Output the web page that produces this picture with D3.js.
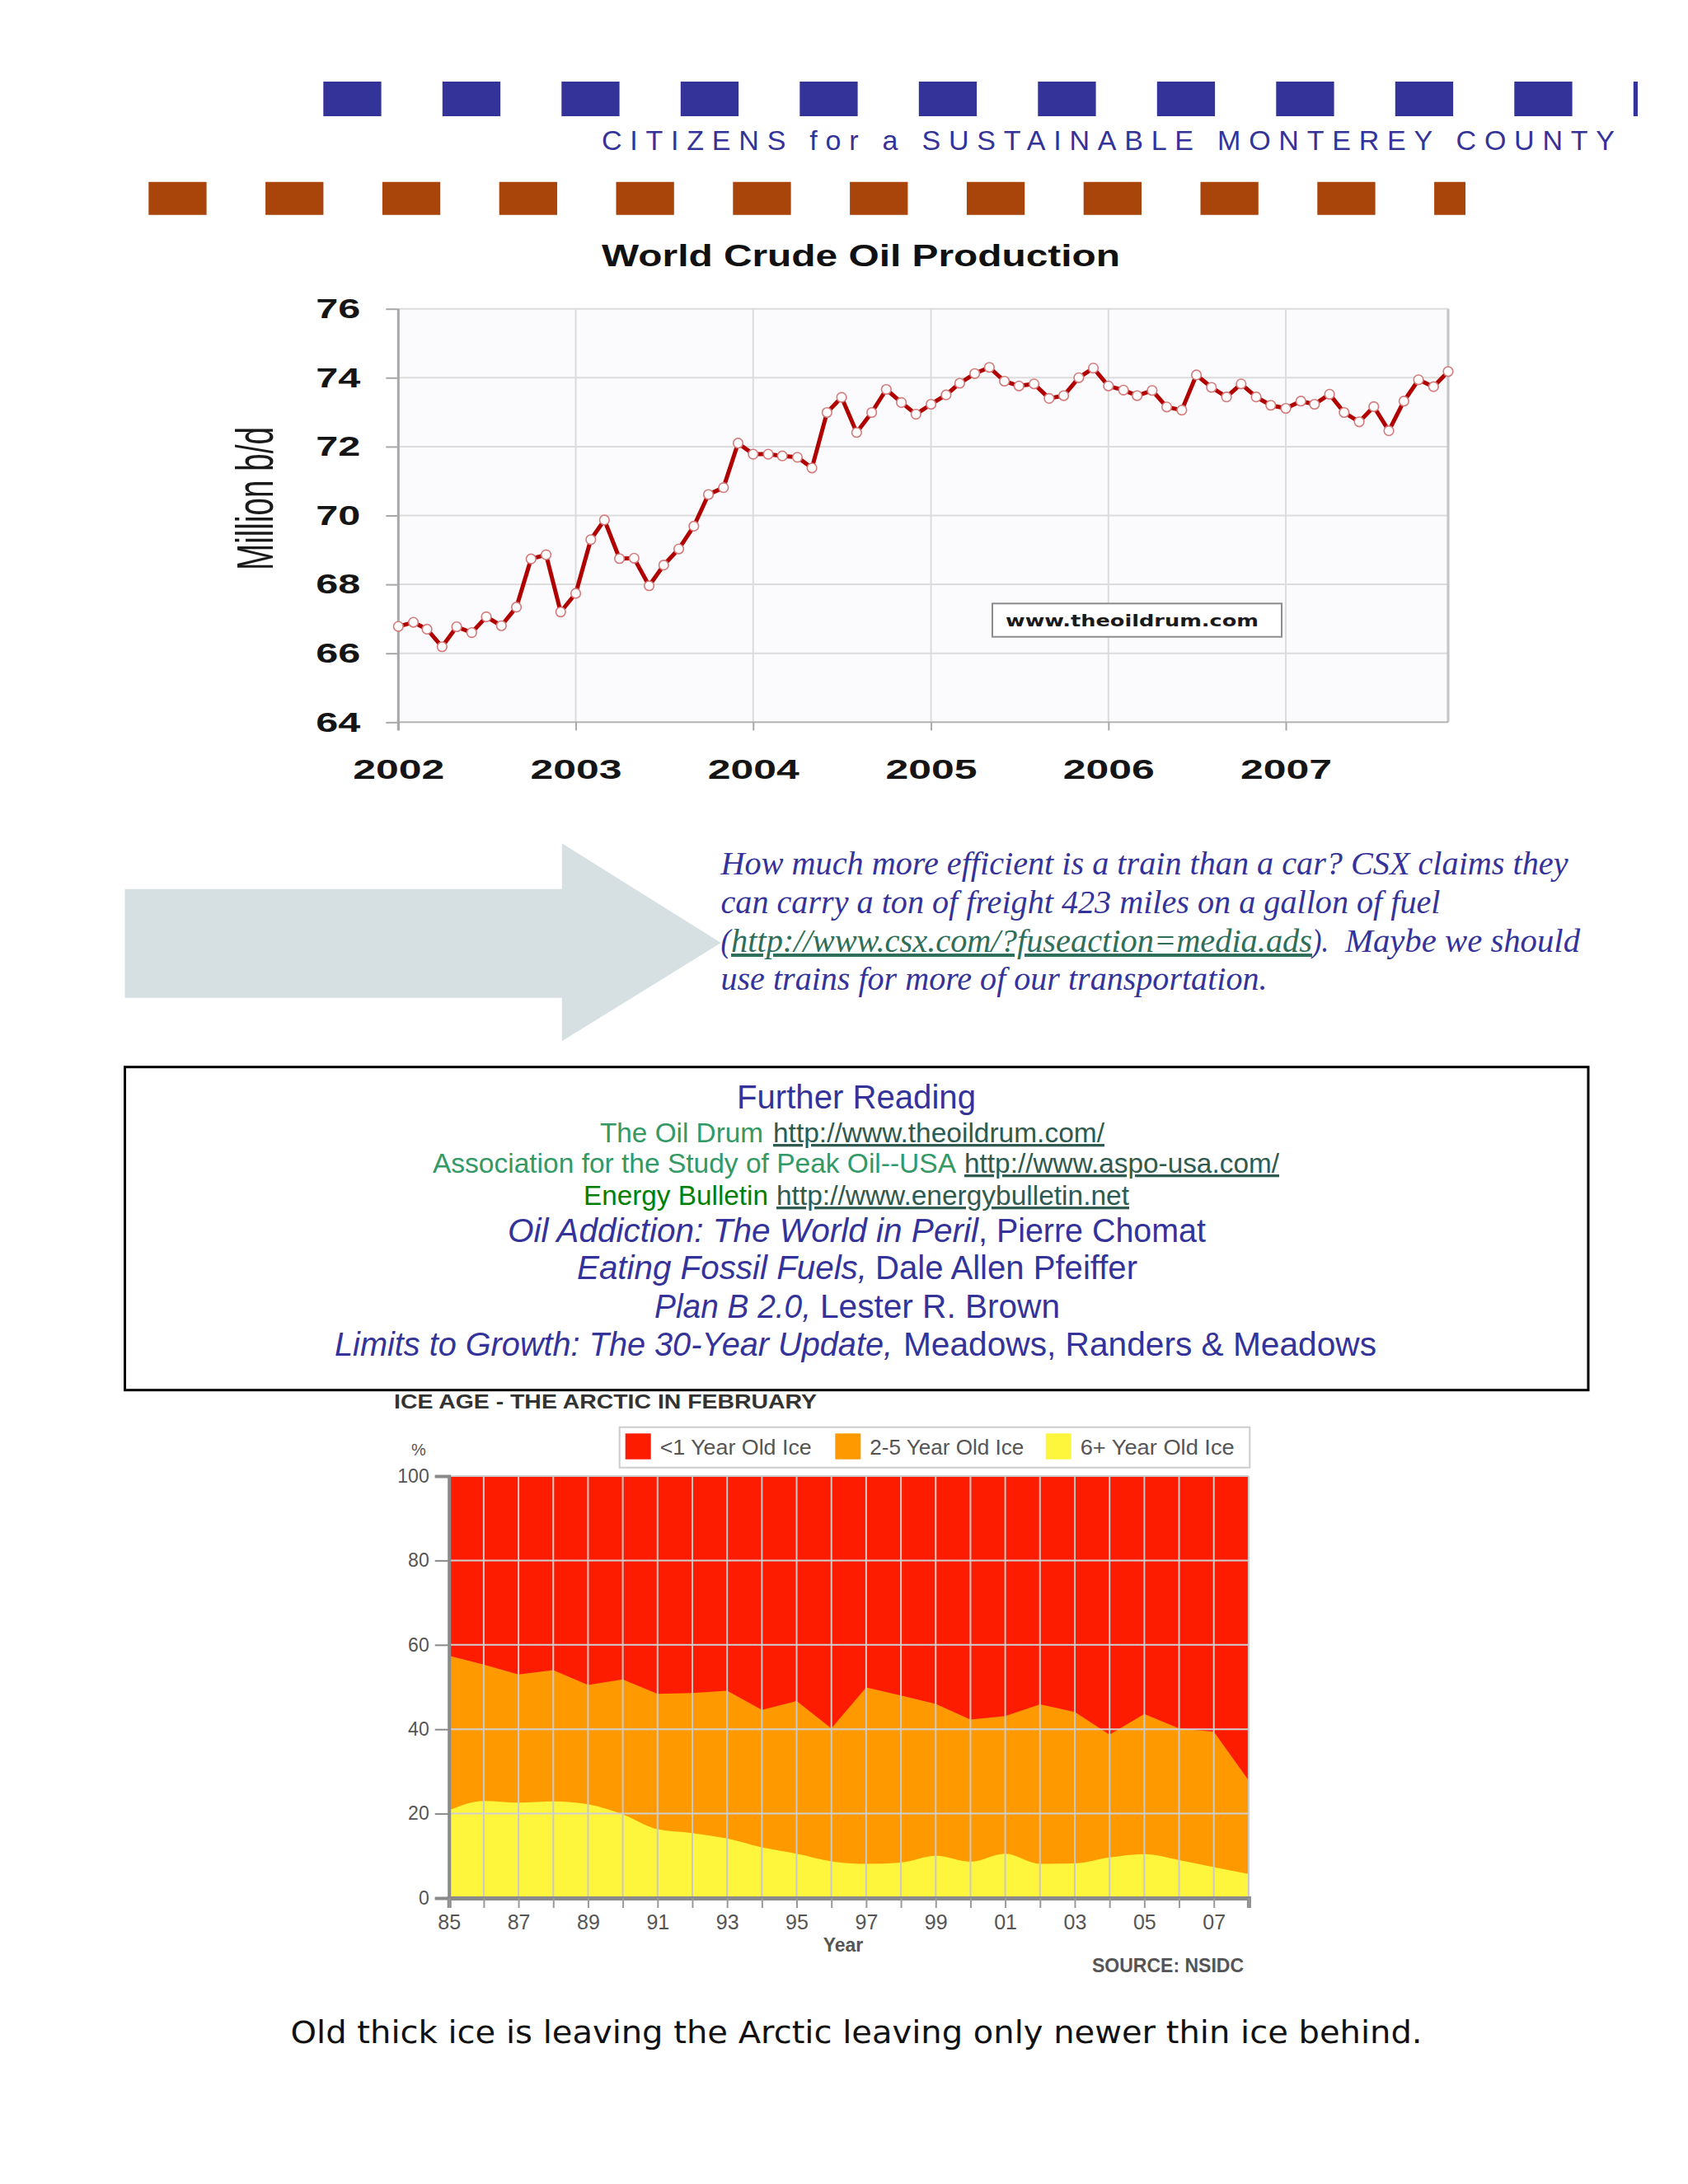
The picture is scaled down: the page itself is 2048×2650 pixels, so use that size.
<!DOCTYPE html>
<html><head><meta charset="utf-8">
<script src="https://cdn.jsdelivr.net/npm/d3@7"></script>
<style>html,body{margin:0;padding:0;background:#fff;} svg{display:block;}</style>
</head><body><svg id="page" width="2048" height="2650"></svg>
<script>
// ---------------- DATA ----------------
// World crude oil production, million b/d, monthly Jan..Dec
const oil2002 = [66.78, 66.90, 66.70, 66.19, 66.77, 66.60, 67.06, 66.80, 67.34, 68.74, 68.86, 67.20];
const oil2003 = [67.74, 69.30, 69.87, 68.75, 68.76, 67.96, 68.56, 69.03, 69.69, 70.61, 70.81, 72.10];
const oil2004 = [71.78, 71.78, 71.73, 71.69, 71.38, 72.99, 73.43, 72.41, 72.99, 73.66, 73.28, 72.94];
const oil2005 = [73.23, 73.50, 73.84, 74.12, 74.30, 73.90, 73.76, 73.82, 73.40, 73.48, 74.00, 74.28];
const oil2006 = [73.76, 73.64, 73.48, 73.63, 73.15, 73.06, 74.08, 73.72, 73.44, 73.82, 73.44, 73.20];
const oil2007 = [73.11, 73.32, 73.23, 73.52, 72.99, 72.72, 73.16, 72.46, 73.32, 73.94, 73.74, 74.18];
const oilYears = [2002, 2003, 2004, 2005, 2006, 2007];
const oilByYear = [oil2002, oil2003, oil2004, oil2005, oil2006, oil2007];
const oilYTicks = [64, 66, 68, 70, 72, 74, 76];
const oilXTickLabels = ["2002", "2003", "2004", "2005", "2006", "2007"];

// Arctic ice age in February, percent
const iceYears = [1985, 1986, 1987, 1988, 1989, 1990, 1991, 1992, 1993, 1994, 1995, 1996,
                  1997, 1998, 1999, 2000, 2001, 2002, 2003, 2004, 2005, 2006, 2007, 2008];
const iceSixPlus   = [20.8, 23.0, 22.6, 22.9, 22.2, 19.8, 16.3, 15.4, 14.1, 12.0, 10.5, 8.7,
                      8.1, 8.4, 10.0, 8.6, 10.5, 8.1, 8.2, 9.6, 10.4, 9.0, 7.3, 5.7];
const iceTwoToFive = [36.6, 32.3, 30.4, 31.1, 28.3, 32.0, 32.1, 33.2, 35.0, 32.6, 36.2, 31.5,
                      41.8, 39.6, 36.0, 33.7, 32.6, 37.8, 35.9, 29.1, 33.2, 31.2, 32.1, 22.2];
const iceUnderOne  = [42.6, 44.7, 47.0, 46.0, 49.5, 48.2, 51.6, 51.4, 50.9, 55.4, 53.3, 59.8,
                      50.1, 52.0, 54.0, 57.7, 56.9, 54.1, 55.9, 61.3, 56.4, 59.8, 60.6, 72.1];
const iceSeriesNames = ["<1 Year Old Ice", "2-5 Year Old Ice", "6+ Year Old Ice"];
const iceYTicks = [0, 20, 40, 60, 80, 100];
const iceXTickLabels = ["85", "87", "89", "91", "93", "95", "97", "99", "01", "03", "05", "07"];

// ---------------- PAGE ----------------
const svg = d3.select("#page");
const BLUE = "#333399";

// header dashes
svg.append("line").attr("x1", 392.3).attr("x2", 1987).attr("y1", 120).attr("y2", 120)
  .attr("stroke", "#333399").attr("stroke-width", 42).attr("stroke-dasharray", "70.3,74.2");
svg.append("line").attr("x1", 180.3).attr("x2", 1778).attr("y1", 240.7).attr("y2", 240.7)
  .attr("stroke", "#a9440a").attr("stroke-width", 40).attr("stroke-dasharray", "70.3,71.5");
svg.append("text").attr("x", 730).attr("y", 181.5)
  .attr("font-family", "Liberation Sans, Arial, sans-serif").attr("font-size", 34)
  .attr("fill", BLUE).attr("textLength", 1229).attr("lengthAdjust", "spacing")
  .text("CITIZENS for a SUSTAINABLE MONTEREY COUNTY");

// ---------------- OIL CHART ----------------
const oilData = [];
oilYears.forEach((yr, yi) => oilByYear[yi].forEach((v, m) => oilData.push({date: new Date(yr, m, 1), value: v})));

const ox = d3.scaleTime().domain([new Date(2002, 0, 1), new Date(2007, 11, 1)]).range([483.3, 1757]);
const oy = d3.scaleLinear().domain([64, 76]).range([876.3, 374.7]);
const oil = svg.append("g");

oil.append("rect").attr("x", ox.range()[0]).attr("y", oy(76)).attr("width", ox.range()[1] - ox.range()[0])
  .attr("height", oy(64) - oy(76)).attr("fill", "#fbfbfd");

// grid
oil.append("g").selectAll("line").data(oilYTicks.slice(1)).join("line")
  .attr("x1", ox.range()[0]).attr("x2", ox.range()[1]).attr("y1", d => oy(d)).attr("y2", d => oy(d))
  .attr("stroke", "#dcdcdc").attr("stroke-width", 2);
const yearDates = oilYears.map(y => new Date(y, 0, 1));
oil.append("g").selectAll("line").data(yearDates.slice(1)).join("line")
  .attr("x1", d => ox(d)).attr("x2", d => ox(d)).attr("y1", oy(76)).attr("y2", oy(64))
  .attr("stroke", "#dcdcdc").attr("stroke-width", 2);
// frame
oil.append("line").attr("x1", ox.range()[1]).attr("x2", ox.range()[1]).attr("y1", oy(76)).attr("y2", oy(64))
  .attr("stroke", "#c4c4c4").attr("stroke-width", 3);
oil.append("line").attr("x1", ox.range()[0]).attr("x2", ox.range()[1]).attr("y1", oy(64)).attr("y2", oy(64))
  .attr("stroke", "#b4b4b4").attr("stroke-width", 2);
oil.append("line").attr("x1", ox.range()[0]).attr("x2", ox.range()[0]).attr("y1", oy(76)).attr("y2", oy(64) + 10)
  .attr("stroke", "#a8a8a8").attr("stroke-width", 3);

// axes
const oyAxis = oil.append("g").attr("transform", `translate(${ox.range()[0]},0)`)
  .call(d3.axisLeft(oy).tickValues(oilYTicks).tickSize(15).tickPadding(31).tickFormat(d3.format("d")));
oyAxis.select(".domain").remove();
oyAxis.selectAll(".tick line").attr("stroke", "#a8a8a8").attr("stroke-width", 2);
oyAxis.selectAll(".tick text").attr("font-family", "Liberation Sans, Arial, sans-serif")
  .attr("font-weight", "bold").attr("font-size", 34).attr("fill", "#151515")
  .attr("textLength", 54).attr("lengthAdjust", "spacingAndGlyphs");

const oxAxis = oil.append("g").attr("transform", `translate(0,${oy(64)})`)
  .call(d3.axisBottom(ox).tickValues(yearDates).tickSize(10).tickPadding(35)
    .tickFormat((d, i) => oilXTickLabels[i]));
oxAxis.select(".domain").remove();
oxAxis.selectAll(".tick line").attr("stroke", "#a8a8a8").attr("stroke-width", 2);
oxAxis.selectAll(".tick text").attr("font-family", "Liberation Sans, Arial, sans-serif")
  .attr("font-weight", "bold").attr("font-size", 34).attr("fill", "#151515")
  .attr("textLength", 111).attr("lengthAdjust", "spacingAndGlyphs");

// title and y label
oil.append("text").attr("x", 730).attr("y", 323).attr("font-family", "Liberation Sans, Arial, sans-serif")
  .attr("font-weight", "bold").attr("font-size", 36).attr("fill", "#111")
  .attr("textLength", 629).attr("lengthAdjust", "spacingAndGlyphs").text("World Crude Oil Production");
oil.append("text").attr("transform", "translate(331,605) rotate(-90)").attr("text-anchor", "middle")
  .attr("font-family", "Liberation Sans, Arial, sans-serif").attr("font-size", 63).attr("fill", "#1a1a1a")
  .attr("textLength", 174).attr("lengthAdjust", "spacingAndGlyphs").text("Million b/d");

// source box
oil.append("rect").attr("x", 1204).attr("y", 732.3).attr("width", 351).attr("height", 40.4)
  .attr("fill", "#fff").attr("stroke", "#8c8c8c").attr("stroke-width", 2);
oil.append("text").attr("x", 1220).attr("y", 760).attr("font-family", "DejaVu Sans, Verdana, sans-serif")
  .attr("font-weight", "bold").attr("font-size", 20).attr("fill", "#1a1a1a")
  .attr("textLength", 307).attr("lengthAdjust", "spacingAndGlyphs").text("www.theoildrum.com");

// series
oil.append("path").datum(oilData).attr("fill", "none").attr("stroke", "#b00000").attr("stroke-width", 5)
  .attr("stroke-linejoin", "round")
  .attr("d", d3.line().x(d => ox(d.date)).y(d => oy(d.value)));
oil.append("g").selectAll("circle").data(oilData).join("circle")
  .attr("cx", d => ox(d.date)).attr("cy", d => oy(d.value)).attr("r", 5.8)
  .attr("fill", "#fff").attr("stroke", "#d47a7a").attr("stroke-width", 1.6);

// ---------------- ARROW + TEXT ----------------
svg.append("polygon")
  .attr("points", "151.5,1078.7 681.8,1078.7 681.8,1023.3 874.7,1144 681.8,1263.3 681.8,1210.7 151.5,1210.7")
  .attr("fill", "#d6e0e2");
const serif = "Liberation Serif, Times New Roman, serif";
function itext(x, y, len, str, color, underline) {
  const t = svg.append("text").attr("x", x).attr("y", y).attr("font-family", serif)
    .attr("font-style", "italic").attr("font-size", 40).attr("fill", color)
    .attr("textLength", len).attr("lengthAdjust", "spacingAndGlyphs").text(str);
  if (underline) t.attr("text-decoration", "underline");
  return t;
}
itext(874.5, 1061, 1028, "How much more efficient is a train than a car? CSX claims they", BLUE);
itext(874.5, 1108, 873, "can carry a ton of freight 423 miles on a gallon of fuel", BLUE);
itext(874.5, 1155, 12, "(", BLUE);
itext(887, 1155, 705, "http://www.csx.com/?fuseaction=media.ads", "#2e6e5a", true);
itext(1592, 1155, 20, ").", BLUE);
itext(1632, 1155, 285, "Maybe we should", BLUE);
itext(874.5, 1201, 663, "use trains for more of our transportation.", BLUE);

// ---------------- FURTHER READING ----------------
svg.append("rect").attr("x", 151.5).attr("y", 1294.7).attr("width", 1775.5).attr("height", 392)
  .attr("fill", "none").attr("stroke", "#000").attr("stroke-width", 3);
const sans = "Liberation Sans, Arial, sans-serif";
function rtext(x, y, len, size, str, color, opts = {}) {
  const t = svg.append("text").attr("x", x).attr("y", y).attr("font-family", sans)
    .attr("font-size", size).attr("fill", color)
    .attr("textLength", len).attr("lengthAdjust", "spacingAndGlyphs").text(str);
  if (opts.italic) t.attr("font-style", "italic");
  if (opts.underline) t.attr("text-decoration", "underline");
  return t;
}
const URLC = "#2f5a50";
rtext(894, 1345, 290, 40, "Further Reading", BLUE);
rtext(728, 1386, 198, 33, "The Oil Drum", "#339966");
rtext(938, 1386, 402, 33, "http://www.theoildrum.com/", URLC, {underline: true});
rtext(525, 1423, 635, 33, "Association for the Study of Peak Oil--USA", "#339966");
rtext(1170, 1423, 382, 33, "http://www.aspo-usa.com/", URLC, {underline: true});
rtext(708, 1462, 224, 33, "Energy Bulletin", "#008000");
rtext(942, 1462, 428, 33, "http://www.energybulletin.net", URLC, {underline: true});
rtext(616, 1507, 571, 40, "Oil Addiction: The World in Peril", BLUE, {italic: true});
rtext(1187, 1507, 276, 40, ", Pierre Chomat", BLUE);
rtext(700, 1552, 352, 40, "Eating Fossil Fuels,", BLUE, {italic: true});
rtext(1062, 1552, 318, 40, "Dale Allen Pfeiffer", BLUE);
rtext(794, 1599, 190, 40, "Plan B 2.0,", BLUE, {italic: true});
rtext(995, 1599, 291, 40, "Lester R. Brown", BLUE);
rtext(406, 1645, 677, 40, "Limits to Growth: The 30-Year Update,", BLUE, {italic: true});
rtext(1096, 1645, 574, 40, "Meadows, Randers & Meadows", BLUE);

// ---------------- ICE CHART ----------------
const ix = d3.scaleLinear().domain([1985, 2008]).range([544.7, 1514.9]);
const iy = d3.scaleLinear().domain([0, 100]).range([2303, 1791]);
const ice = svg.append("g");
const iceColors = ["#fe1c00", "#fe9a00", "#fef63c"];

const iceRows = iceYears.map((y, i) => ({year: y, six: iceSixPlus[i], two: iceTwoToFive[i], one: iceUnderOne[i]}));
const stack = d3.stack().keys(["six", "two", "one"])(iceRows);
// painter's order: <1 (top layer, full height), 2-5, 6+
const layerCurves = {one: d3.curveLinear, two: d3.curveLinear, six: d3.curveMonotoneX};
[["one", 0], ["two", 1], ["six", 2]].forEach(([key, ci]) => {
  const layer = stack.find(s => s.key === key);
  ice.append("path").datum(layer).attr("fill", iceColors[ci])
    .attr("d", d3.area().curve(layerCurves[key]).x(d => ix(d.data.year)).y0(iy(0)).y1(d => iy(d[1])));
});

// grid over areas
ice.append("g").selectAll("line").data(iceYears.slice(1)).join("line")
  .attr("x1", d => ix(d)).attr("x2", d => ix(d)).attr("y1", iy(100)).attr("y2", iy(0))
  .attr("stroke", "#c9c9c9").attr("stroke-width", 2);
ice.append("g").selectAll("line").data(iceYTicks.slice(1)).join("line")
  .attr("x1", ix(1985)).attr("x2", ix(2008)).attr("y1", d => iy(d)).attr("y2", d => iy(d))
  .attr("stroke", "#cfcfcf").attr("stroke-width", 2);

// axes
const iyAxis = ice.append("g").attr("transform", `translate(${ix(1985)},0)`)
  .call(d3.axisLeft(iy).tickValues(iceYTicks).tickSize(17).tickPadding(7));
iyAxis.select(".domain").attr("stroke", "#8a8a8a").attr("stroke-width", 4);
iyAxis.selectAll(".tick line").attr("stroke", "#8a8a8a").attr("stroke-width", 2);
iyAxis.selectAll(".tick text").attr("font-family", sans).attr("font-size", 23).attr("fill", "#555");

const ixAxis = ice.append("g").attr("transform", `translate(0,${iy(0)})`)
  .call(d3.axisBottom(ix).tickValues(iceYears).tickSize(12).tickPadding(8)
    .tickFormat(d => { const i = (d - 1985) / 2; return Number.isInteger(i) && iceXTickLabels[i] ? iceXTickLabels[i] : ""; }));
ixAxis.select(".domain").attr("stroke", "#8a8a8a").attr("stroke-width", 5);
ixAxis.selectAll(".tick line").attr("stroke", "#9a9a9a").attr("stroke-width", 2);
ixAxis.selectAll(".tick text").attr("font-family", sans).attr("font-size", 25).attr("fill", "#555");

ice.append("text").attr("x", 478).attr("y", 1709.3).attr("font-family", sans).attr("font-weight", "bold")
  .attr("font-size", 24.5).attr("fill", "#333").attr("textLength", 513).attr("lengthAdjust", "spacingAndGlyphs")
  .text("ICE AGE - THE ARCTIC IN FEBRUARY");
ice.append("text").attr("x", 499).attr("y", 1766).attr("font-family", sans).attr("font-size", 20)
  .attr("fill", "#555").text("%");
ice.append("text").attr("x", 1023).attr("y", 2368.3).attr("text-anchor", "middle").attr("font-family", sans)
  .attr("font-weight", "bold").attr("font-size", 23).attr("fill", "#555").text("Year");
ice.append("text").attr("x", 1509).attr("y", 2393.3).attr("text-anchor", "end").attr("font-family", sans)
  .attr("font-weight", "bold").attr("font-size", 23).attr("fill", "#555").text("SOURCE: NSIDC");

// legend
ice.append("rect").attr("x", 751.7).attr("y", 1731.7).attr("width", 764.6).attr("height", 49)
  .attr("fill", "#fff").attr("stroke", "#cccccc").attr("stroke-width", 2);
const legX = [758.7, 1013.3, 1268.7];
const legLen = [184, 187, 187];
iceSeriesNames.forEach((name, i) => {
  ice.append("rect").attr("x", legX[i]).attr("y", 1739.3).attr("width", 31).attr("height", 31.4)
    .attr("fill", iceColors[i]);
  ice.append("text").attr("x", legX[i] + 42).attr("y", 1765).attr("font-family", sans).attr("font-size", 25)
    .attr("fill", "#555").attr("textLength", legLen[i]).attr("lengthAdjust", "spacingAndGlyphs").text(name);
});

// caption
svg.append("text").attr("x", 352.6).attr("y", 2479).attr("font-family", "DejaVu Sans, Verdana, sans-serif")
  .attr("font-size", 37).attr("fill", "#111").attr("textLength", 1373).attr("lengthAdjust", "spacingAndGlyphs")
  .text("Old thick ice is leaving the Arctic leaving only newer thin ice behind.");
</script></body></html>
